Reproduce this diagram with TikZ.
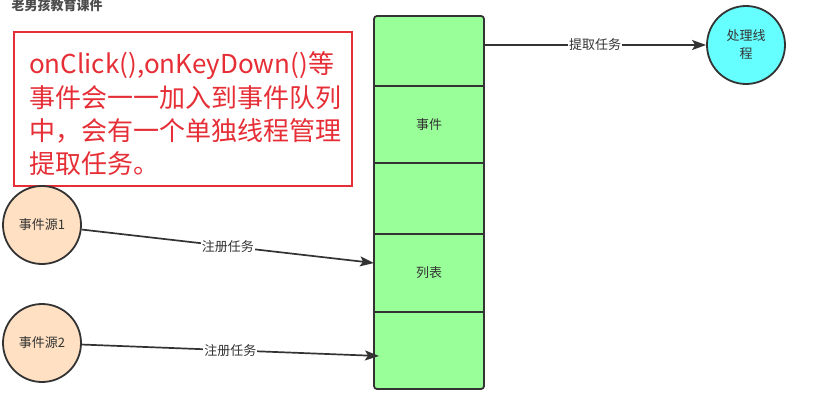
\documentclass[tikz,border=0pt]{standalone}
\usepackage{fontspec}
\newfontfamily\cjk{Noto Sans CJK SC}
\usetikzlibrary{arrows.meta}
\definecolor{qgreen}{HTML}{99FF99}
\definecolor{peach}{HTML}{FFE0C2}
\definecolor{cyanc}{HTML}{66FFFF}
\definecolor{redc}{HTML}{E62E36}
\definecolor{ink}{HTML}{333333}
\begin{document}
\begin{tikzpicture}[x=1pt,y=-1pt,
  every node/.style={font=\cjk},
  edge/.style={draw=ink, line width=1.7pt, -{Stealth[length=14pt,width=10pt,inset=3pt]}},
  lbl/.style={fill=white, inner sep=1pt, font=\cjk\fontsize{13}{15}\selectfont, text=ink},
  seg/.style={minimum width=110pt, inner sep=0pt, font=\cjk\fontsize{13}{15}\selectfont, text=ink},
  circ/.style={circle, draw=ink, line width=1.8pt, minimum size=78pt, inner sep=0pt, align=center, font=\cjk\fontsize{13}{18}\selectfont, text=ink}]
\useasboundingbox (0,0) rectangle (816,404);
% title
\node[anchor=west, font=\cjk\bfseries\fontsize{13}{14}\selectfont, text=black!70] (title) at (8,5) {老男孩教育课件};
% note box
\node[draw=redc, line width=2.5pt, minimum width=338pt, minimum height=154pt, fill=white] (note) at (183,109) {};
\node[anchor=west, align=left, text=redc, inner sep=0pt, font=\cjk\fontsize{26}{33.3}\selectfont] (notetext) at (29,114)
  {onClick(),onKeyDown()等\\事件会一一加入到事件队列\\中，会有一个单独线程管理\\提取任务。};
% queue
\node[draw=ink, line width=1.8pt, rounded corners=3pt, fill=qgreen, minimum width=110pt, minimum height=373pt] (queue) at (429,202.5) {};
\node[seg, minimum height=70pt] (seg1) at (429,51) {};
\node[seg, minimum height=77pt] (seg2) at (429,124.5) {事件};
\node[seg, minimum height=71pt] (seg3) at (429,198.5) {};
\node[seg, minimum height=78pt] (seg4) at (429,273) {列表};
\node[seg, minimum height=77pt] (seg5) at (429,350.5) {};
\foreach \s in {seg1,seg2,seg3,seg4}
  \draw[draw=ink, line width=1.6pt] (\s.south west) -- (\s.south east);
% circles
\node[circ, fill=cyanc] (proc) at (746,45) {处理线\\程};
\node[circ, fill=peach] (src1) at (42,225) {事件源1};
\node[circ, fill=peach] (src2) at (42,343) {事件源2};
% connectors
\coordinate (s0) at (484,45);
\coordinate (t1) at (374,263);
\coordinate (t2) at (379,356);
\draw[edge] (s0) -- (proc) node[lbl, pos=0.5] {提取任务};
\draw[edge] (src1) -- (t1) node[lbl, pos=0.5] {注册任务};
\draw[edge] (src2) -- (t2) node[lbl, pos=0.5] {注册任务};
\end{tikzpicture}
\end{document}
